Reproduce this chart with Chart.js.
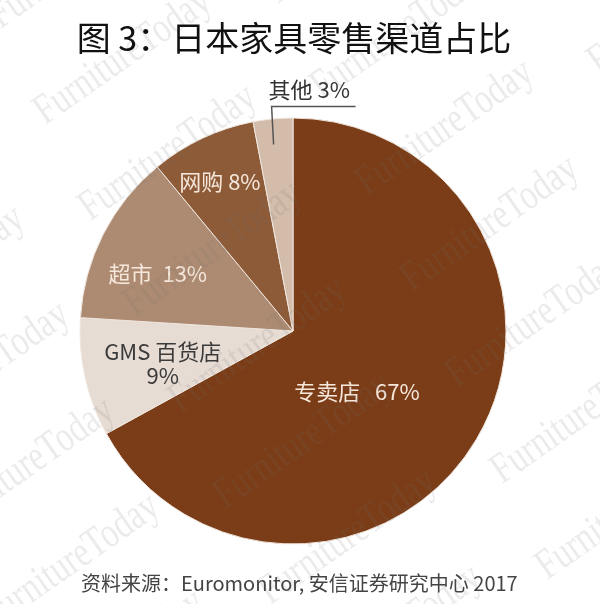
<!DOCTYPE html>
<html>
<head>
<meta charset="utf-8">
<script src="https://cdn.jsdelivr.net/npm/chart.js@4"></script>
<style>
  html, body { margin: 0; padding: 0; background: #ffffff; }
  #wrap { position: absolute; left: 0; top: 0; width: 600px; height: 604px; }
</style>
</head>
<body>
<div id="wrap"><canvas id="c" width="600" height="604"></canvas></div>
<script>
// ---- data ----
const titleText = '图 3：日本家具零售渠道占比';
const sourceText = '资料来源：Euromonitor, 安信证券研究中心 2017';
const categories = ['专卖店', 'GMS 百货店', '超市', '网购', '其他'];
const shares = [67, 9, 13, 8, 3];
const sliceColors = ['#7B3D17', '#E7DCD4', '#AD8B72', '#8E5B38', '#D3BCAA'];
const watermarkText = 'FurnitureToday';

// ---- label styles (position within slice: angular fraction, radial fraction) ----
const labelStyles = [
  { frac: 0.554, r: 0.415, color: '#F6E7DB', gap: '   ', twoLine: false },
  { frac: 0.463, r: 0.63,  color: '#3a3a3a', gap: ' ',  twoLine: true },
  { frac: 0.417, r: 0.69,  color: '#F6E7DB', gap: '  ', twoLine: false },
  { frac: 0.469, r: 0.78,  color: '#F6E7DB', gap: ' ',  twoLine: false },
  { frac: 0.45,  r: 0.88,  color: '#333333', gap: ' ',  outside: true }
];
const FONT = '"Noto Sans CJK SC", "Noto Sans", sans-serif';

const overlay = {
  id: 'overlay',
  afterDatasetsDraw(chart) {
    const ctx = chart.ctx;
    const meta = chart.getDatasetMeta(0);
    ctx.save();
    meta.data.forEach((arc, i) => {
      const st = labelStyles[i];
      const a = arc.startAngle + (arc.endAngle - arc.startAngle) * st.frac;
      const px = arc.x + Math.cos(a) * arc.outerRadius * st.r;
      const py = arc.y + Math.sin(a) * arc.outerRadius * st.r;
      const pct = shares[i] + '%';
      ctx.fillStyle = st.color;
      ctx.font = '22px ' + FONT;
      if (st.outside) {
        const ey = py - 38;
        ctx.strokeStyle = '#555555';
        ctx.lineWidth = 1.5;
        ctx.beginPath();
        ctx.moveTo(px, py);
        ctx.lineTo(px - 2, ey);
        ctx.lineTo(px + 82, ey);
        ctx.stroke();
        ctx.textAlign = 'left';
        ctx.textBaseline = 'middle';
        ctx.fillText(categories[i] + st.gap + pct, px - 5, ey - 17);
      } else if (st.twoLine) {
        ctx.textAlign = 'center';
        ctx.textBaseline = 'middle';
        ctx.fillText(categories[i], px, py - 11);
        ctx.fillText(pct, px, py + 13);
      } else {
        ctx.textAlign = 'center';
        ctx.textBaseline = 'middle';
        ctx.fillText(categories[i] + st.gap + pct, px, py);
      }
    });
    ctx.restore();
  },
  afterDraw(chart) {
    const ctx = chart.ctx;
    // watermark lattice
    ctx.save();
    ctx.fillStyle = 'rgba(110,110,110,0.14)';
    ctx.font = '36px "Liberation Serif", "DejaVu Serif", serif';
    ctx.textAlign = 'center';
    ctx.textBaseline = 'middle';
    const base = [168, 153], u = [277, -25], v = [45, 96];
    for (let i = -3; i <= 3; i++) {
      for (let j = -3; j <= 6; j++) {
        const x = base[0] + i * u[0] + j * v[0];
        const y = base[1] + i * u[1] + j * v[1];
        if (x < -150 || x > 750 || y < -80 || y > 690) continue;
        ctx.save();
        ctx.translate(x, y);
        ctx.rotate(-35 * Math.PI / 180);
        ctx.scale(0.92, 1.2);
        ctx.fillText(watermarkText, 0, 0);
        ctx.restore();
      }
    }
    ctx.restore();
    // title and source
    ctx.save();
    ctx.fillStyle = '#111111';
    ctx.font = '34px ' + FONT;
    ctx.textAlign = 'center';
    ctx.textBaseline = 'middle';
    ctx.fillText(titleText, 294, 38);
    ctx.fillStyle = '#444444';
    ctx.font = '20px ' + FONT;
    ctx.textAlign = 'left';
    ctx.fillText(sourceText, 81, 583);
    ctx.restore();
  }
};

new Chart(document.getElementById('c'), {
  type: 'pie',
  data: {
    labels: categories,
    datasets: [{
      data: shares,
      backgroundColor: sliceColors,
      borderColor: '#EFE6DE',
      borderWidth: 1,
      hoverOffset: 0,
      radius: 213
    }]
  },
  options: {
    responsive: false,
    animation: false,
    devicePixelRatio: 1,
    layout: { padding: { top: 58, right: 14, bottom: 0, left: 0 } },
    plugins: {
      legend: { display: false },
      tooltip: { enabled: false },
      title: { display: false }
    }
  },
  plugins: [overlay]
});
</script>
</body>
</html>
